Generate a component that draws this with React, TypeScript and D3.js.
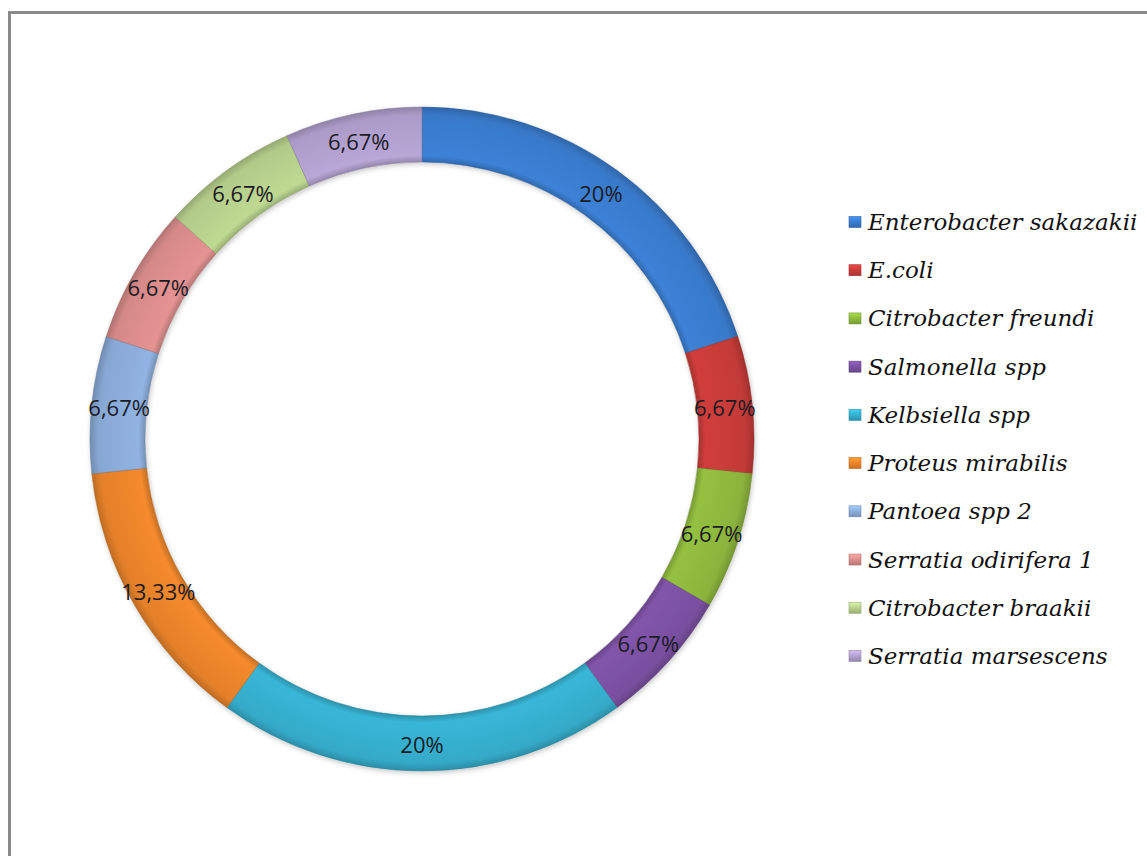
import React from "react";
import * as d3 from "d3";

// Bacterial isolates share (%)
const species = [
  "Enterobacter sakazakii",
  "E.coli",
  "Citrobacter freundi",
  "Salmonella spp",
  "Kelbsiella spp",
  "Proteus mirabilis",
  "Pantoea spp 2",
  "Serratia odirifera 1",
  "Citrobacter braakii",
  "Serratia marsescens",
];
const shares = [20, 6.67, 6.67, 6.67, 20, 13.33, 6.67, 6.67, 6.67, 6.67];
const shareLabels = ["20%", "6,67%", "6,67%", "6,67%", "20%", "13,33%", "6,67%", "6,67%", "6,67%", "6,67%"];
const palette = [
  "#3a7dd0",
  "#c93c39",
  "#90ba3e",
  "#7d52a5",
  "#36b0cf",
  "#ec852b",
  "#8caddb",
  "#dc8e8d",
  "#b8d18d",
  "#b2a1cf",
];

const W = 1147;
const H = 856;
const cx = 422;
const cy = 439;
const outerR = 332;
const innerR = 277;

export default function App() {
  const pie = d3.pie<number>().sort(null).value((d) => d);
  const arcs = pie(shares);
  const arcGen = d3.arc<d3.PieArcDatum<number>>().innerRadius(innerR).outerRadius(outerR);
  const legendY = d3.scalePoint<number>().domain(d3.range(species.length)).range([222, 656]);
  const f0 = innerR / outerR;

  return (
    <svg
      width={W}
      height={H}
      style={{ position: "absolute", left: 0, top: 0, background: "#fff" }}
    >
      <defs>
        {palette.map((c, i) => {
          const base = d3.color(c)!;
          return (
            <radialGradient
              key={i}
              id={`seg${i}`}
              gradientUnits="userSpaceOnUse"
              cx={0}
              cy={0}
              r={outerR}
            >
              <stop offset={f0} stopColor={base.darker(0.5).formatHex()} />
              <stop offset={f0 + 0.02} stopColor={base.brighter(0.1).formatHex()} />
              <stop offset={(1 + f0) / 2} stopColor={c} />
              <stop offset={1 - 0.025} stopColor={base.darker(0.1).formatHex()} />
              <stop offset={1} stopColor={base.darker(0.6).formatHex()} />
            </radialGradient>
          );
        })}
        {palette.map((c, i) => {
          const base = d3.color(c)!;
          return (
            <linearGradient key={i} id={`leg${i}`} x1="0" y1="0" x2="0" y2="1">
              <stop offset="0" stopColor={base.brighter(0.5).formatHex()} />
              <stop offset="0.5" stopColor={c} />
              <stop offset="1" stopColor={base.darker(0.5).formatHex()} />
            </linearGradient>
          );
        })}
        <filter id="shadow" x="-10%" y="-10%" width="120%" height="120%">
          <feDropShadow dx="1" dy="2" stdDeviation="2.5" floodColor="#000" floodOpacity="0.22" />
        </filter>
      </defs>

      {/* frame: only the top and left edges fall inside the view */}
      <rect x={9.5} y={12.5} width={1200} height={900} fill="none" stroke="#8a8a8a" strokeWidth={3} />

      <g transform={`translate(${cx},${cy})`} filter="url(#shadow)">
        {arcs.map((a, i) => (
          <path
            key={i}
            d={arcGen(a) || ""}
            fill={`url(#seg${i})`}
            stroke={d3.color(palette[i])!.darker(0.9).formatHex()}
            strokeWidth={0.8}
            strokeOpacity={0.6}
          />
        ))}
      </g>
      <g transform={`translate(${cx},${cy})`}>
        {arcs.map((a, i) => {
          const [x, y] = arcGen.centroid(a);
          return (
            <text
              key={i}
              x={x}
              y={y}
              textAnchor="middle"
              dominantBaseline="central"
              fontFamily="'Open Sans', sans-serif"
              fontSize={22}
              fill="#1b1b24"
            >
              {shareLabels[i]}
            </text>
          );
        })}
      </g>

      <g>
        {species.map((s, i) => {
          const y = legendY(i)!;
          return (
            <g key={s}>
              <rect
                x={849}
                y={y - 5.5}
                width={12}
                height={11}
                fill={`url(#leg${i})`}
                stroke={d3.color(palette[i])!.darker(0.6).formatHex()}
                strokeWidth={0.6}
              />
              <text
                x={868}
                y={y}
                dominantBaseline="central"
                fontFamily="DejaVu Serif"
                fontStyle="italic"
                fontSize={23}
                fill="#111"
              >
                {s}
              </text>
            </g>
          );
        })}
      </g>
    </svg>
  );
}
